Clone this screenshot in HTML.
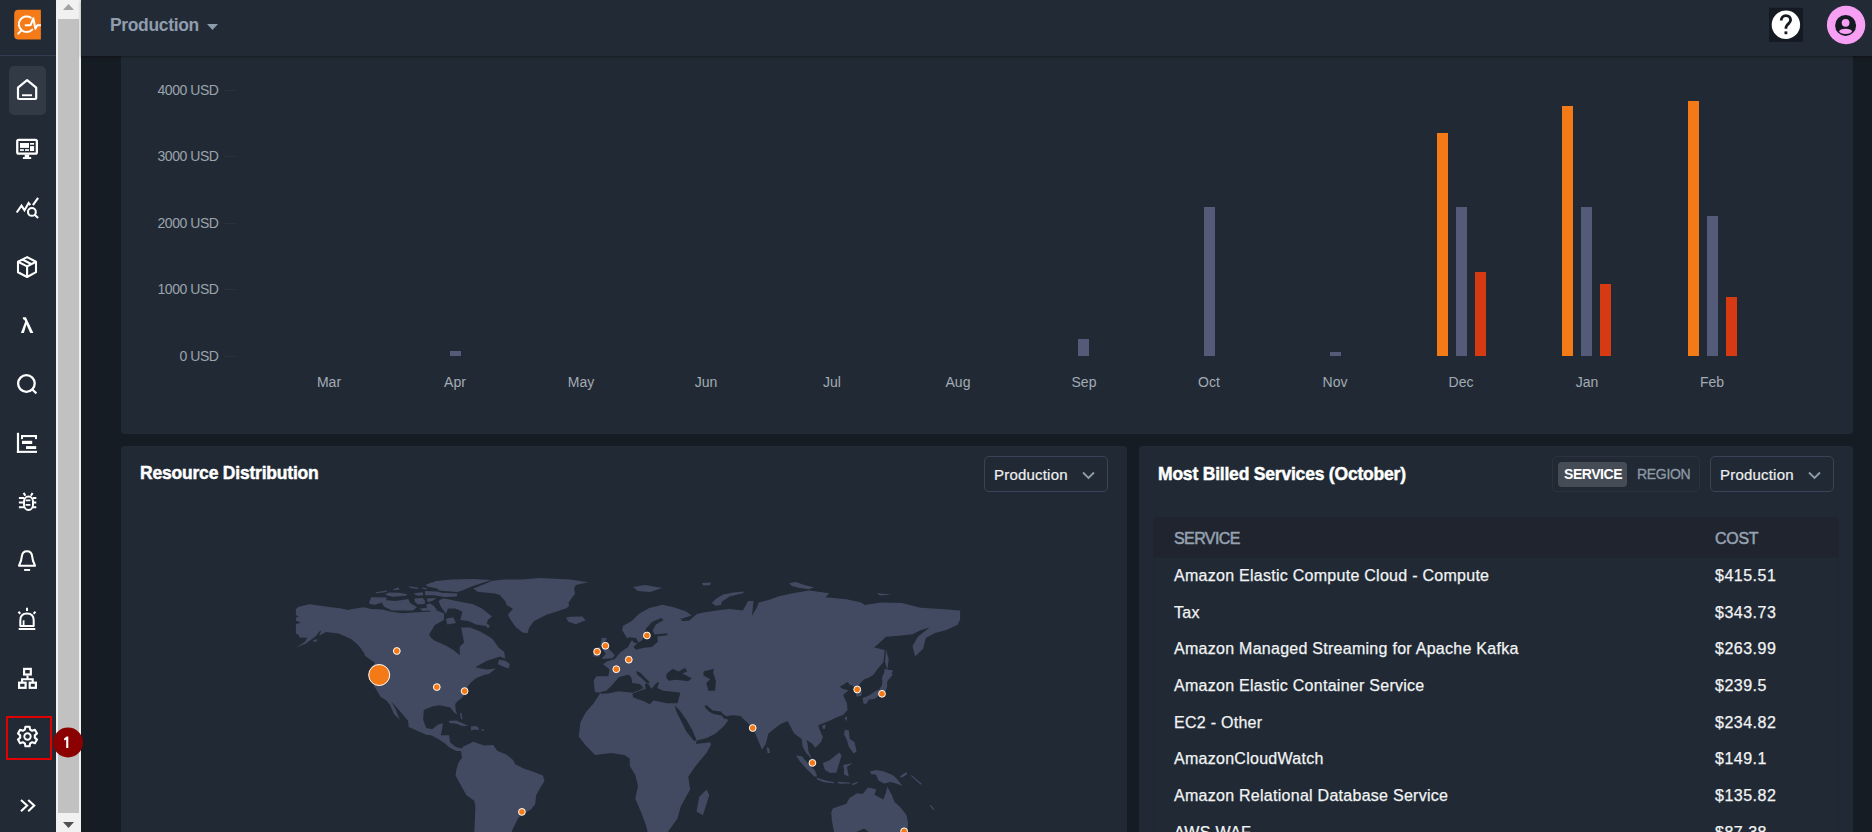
<!DOCTYPE html>
<html><head><meta charset="utf-8">
<style>
*{box-sizing:border-box;margin:0;padding:0}
html,body{width:1872px;height:832px;overflow:hidden;background:#161c23;font-family:"Liberation Sans",sans-serif;position:relative}
.abs{position:absolute}
#sidebar{left:0;top:0;width:56px;height:832px;background:#212a35}
#sep{left:0;top:55px;width:56px;height:1px;background:#363b50}
#scroll{left:56px;top:0;width:25px;height:832px;background:#f1f1f1}
#thumb{left:58px;top:19px;width:21px;height:794px;background:#c1c1c1}
#header{left:81px;top:0;width:1791px;height:56px;background:#222a35;box-shadow:0 1px 3px rgba(0,0,0,.35);z-index:5}
.card{background:#212a34;border-radius:4px}
.ylab{color:#9ba3ad;font-size:14px;text-align:right;width:80px;left:138.5px;line-height:15px;letter-spacing:-0.45px}
.mlab{color:#a3abb5;font-size:14px;text-align:center;width:60px;line-height:15px;top:374.5px}
.bar{bottom:476px}
.o{background:#f47a17}.g{background:#535b78}.r{background:#d63a12}
.title{color:#fff;font-weight:bold;font-size:17.5px;line-height:20px;-webkit-text-stroke:0.45px #fff;letter-spacing:-0.2px}
.dd{border:1px solid #3a4456;border-radius:5px;height:36px}
.dd span{position:absolute;color:#eef0f2;font-size:15px;line-height:16px;top:10px;letter-spacing:0.2px;-webkit-text-stroke:0.2px #eef0f2}
.row{color:#f1f3f5;font-size:16px;line-height:18px;letter-spacing:0.27px;-webkit-text-stroke:0.25px #f1f3f5}
.cost{letter-spacing:0.5px}
.ico{position:absolute;fill:none;stroke:#fff;stroke-width:2}
</style></head><body>
<div id="sidebar" class="abs"></div>
<div id="sep" class="abs"></div>
<div id="scroll" class="abs"></div>
<div id="thumb" class="abs"></div>
<svg class="abs" style="left:56px;top:0" width="25" height="832">
  <polygon points="7,10 18,10 12.5,4" fill="#a3a3a3"/>
  <polygon points="7,822 18,822 12.5,828" fill="#505050"/>
</svg>

<div id="header" class="abs">
  <div class="abs" style="left:29px;top:15px;color:#8f9daf;font-weight:bold;font-size:17.5px;line-height:20px;letter-spacing:-0.35px">Production</div>
  <svg class="abs" style="left:126px;top:23px" width="12" height="8"><polygon points="0,1 11,1 5.5,7" fill="#8d9bab"/></svg>
<svg class="abs" style="left:0;top:0" width="1791" height="56" viewBox="81 0 1791 56">
<rect x="1769" y="7.8" width="34" height="34" fill="#151a22"/>
<circle cx="1785.9" cy="24.8" r="14.2" fill="#fff"/>
<path d="M1781.2,20.6 C1781.2,17.4 1783.3,15.6 1785.9,15.6 C1788.7,15.6 1790.6,17.4 1790.6,20.1 C1790.6,22.8 1788.2,23.6 1786.8,25.5 C1786.1,26.4 1785.9,27.4 1785.9,28.7" fill="none" stroke="#151a22" stroke-width="2.8"/>
<rect x="1784.5" y="31.4" width="2.8" height="2.8" fill="#151a22"/>
<circle cx="1846.1" cy="24.95" r="19.2" fill="#f7a0f3"/>
<circle cx="1845.6" cy="25.4" r="10.5" fill="#151a22"/>
<circle cx="1845.6" cy="22.8" r="3.9" fill="#f7a0f3"/>
<ellipse cx="1845.6" cy="31.3" rx="6.3" ry="2.6" fill="#f7a0f3"/>
</svg>
</div>

<!-- top chart card -->
<div class="abs card" style="left:121px;top:20px;width:1732px;height:414px"></div>
<div class="abs ylab" style="top:83px">4000 USD</div>
<div class="abs ylab" style="top:149px">3000 USD</div>
<div class="abs ylab" style="top:215.5px">2000 USD</div>
<div class="abs ylab" style="top:282px">1000 USD</div>
<div class="abs ylab" style="top:348.5px">0 USD</div>

<div class="abs" style="left:224px;top:90px;width:12px;height:1px;background:#2b303c"></div><div class="abs" style="left:224px;top:156px;width:12px;height:1px;background:#2b303c"></div><div class="abs" style="left:224px;top:223px;width:12px;height:1px;background:#2b303c"></div><div class="abs" style="left:224px;top:289px;width:12px;height:1px;background:#2b303c"></div><div class="abs" style="left:224px;top:356px;width:12px;height:1px;background:#2b303c"></div>
<div class="abs mlab" style="left:299px">Mar</div>
<div class="abs mlab" style="left:425px">Apr</div>
<div class="abs mlab" style="left:551px">May</div>
<div class="abs mlab" style="left:676px">Jun</div>
<div class="abs mlab" style="left:802px">Jul</div>
<div class="abs mlab" style="left:928px">Aug</div>
<div class="abs mlab" style="left:1054px">Sep</div>
<div class="abs mlab" style="left:1179px">Oct</div>
<div class="abs mlab" style="left:1305px">Nov</div>
<div class="abs mlab" style="left:1431px">Dec</div>
<div class="abs mlab" style="left:1557px">Jan</div>
<div class="abs mlab" style="left:1682px">Feb</div>

<div class="abs bar g" style="left:450px;width:11px;top:351px;height:5px"></div>
<div class="abs bar g" style="left:1078px;width:11px;top:339px;height:17px"></div>
<div class="abs bar g" style="left:1204px;width:11px;top:207px;height:149px"></div>
<div class="abs bar g" style="left:1330px;width:11px;top:352px;height:4px"></div>
<div class="abs bar o" style="left:1437px;width:11px;top:133px;height:223px"></div>
<div class="abs bar g" style="left:1456px;width:11px;top:207px;height:149px"></div>
<div class="abs bar r" style="left:1475px;width:11px;top:272px;height:84px"></div>
<div class="abs bar o" style="left:1562px;width:11px;top:106px;height:250px"></div>
<div class="abs bar g" style="left:1581px;width:11px;top:207px;height:149px"></div>
<div class="abs bar r" style="left:1600px;width:11px;top:284px;height:72px"></div>
<div class="abs bar o" style="left:1688px;width:11px;top:101px;height:255px"></div>
<div class="abs bar g" style="left:1707px;width:11px;top:216px;height:140px"></div>
<div class="abs bar r" style="left:1726px;width:11px;top:297px;height:59px"></div>

<!-- resource distribution card -->
<div class="abs card" style="left:121px;top:446px;width:1006px;height:400px"></div>
<div class="abs title" style="left:140px;top:463px">Resource Distribution</div>
<div class="abs dd" style="left:984px;top:456px;width:124px"><span style="left:9px">Production</span>
<svg class="abs" style="left:97px;top:14px" width="14" height="9"><polyline points="1,1.5 6.5,7 12,1.5" fill="none" stroke="#8d9bab" stroke-width="1.9"/></svg></div>
<!--MAP--><div class="abs" style="left:121px;top:446px;width:1006px;height:386px;overflow:hidden"><div class="abs" style="left:-121px;top:-446px"><svg class="abs" style="left:0;top:0" width="1872" height="832" viewBox="0 0 1872 832"><path fill="#424a62" d="M295.9,609.0 L298.8,606.8 L309.6,604.3 L318.3,605.4 L331.3,607.2 L339.9,608.3 L347.8,610.1 L352.9,609.0 L363.7,607.2 L370.9,609.0 L382.4,609.6 L391.0,611.8 L402.6,613.2 L412.7,612.5 L428.5,611.8 L436.9,610.5 L443.7,613.3 L455.0,612.0 L470.0,614.0 L480.0,618.0 L489.8,625.8 L485.0,633.5 L492.7,639.3 L498.7,647.8 L504.2,652.1 L505.2,658.6 L500.0,656.5 L487.0,660.8 L475.2,667.3 L480.6,668.4 L487.1,669.5 L495.8,668.4 L489.3,673.8 L483.9,674.9 L476.3,678.1 L470.9,682.5 L467.6,686.8 L465.5,693.3 L462.2,697.6 L456.8,702.0 L455.2,704.1 L455.7,710.6 L457.3,714.9 L453.5,711.7 L450.3,707.4 L444.9,706.3 L439.5,705.2 L432.2,706.4 L423.8,710.0 L423.1,719.7 L426.2,728.1 L432.2,729.3 L438.2,724.5 L443.0,723.3 L441.8,730.5 L440.6,735.3 L449.0,735.3 L450.2,742.5 L456.2,747.3 L462.2,748.5 L463.2,746.6 L467.7,744.4 L473.2,741.7 L477.6,743.3 L484.2,745.5 L493.1,745.0 L497.5,751.1 L506.4,754.4 L513.0,759.9 L515.2,764.3 L524.1,768.8 L534.0,772.1 L542.9,775.4 L544.5,780.9 L539.6,788.7 L536.2,795.3 L535.1,804.2 L530.7,809.7 L524.1,813.0 L518.5,817.4 L513.0,828.5 L510.8,834.0 L474.3,834.0 L475.4,806.4 L474.3,800.8 L466.5,795.3 L462.1,787.6 L455.5,775.4 L456.6,768.8 L458.8,762.1 L462.1,757.7 L461.0,751.1 L456.2,750.9 L449.0,747.3 L445.4,743.7 L438.2,738.9 L431.0,735.3 L426.2,734.7 L416.5,730.5 L408.7,726.9 L408.1,720.9 L402.1,713.7 L391.3,701.6 L396.0,710.0 L399.7,719.7 L394.0,714.0 L390.1,705.0 L386.5,700.4 L380.5,696.8 L375.7,688.4 L373.7,686.1 L370.8,667.4 L375.1,663.0 L365.0,655.8 L364.4,653.7 L360.1,647.2 L356.5,643.6 L351.4,639.3 L345.7,636.4 L338.5,633.5 L326.2,632.0 L319.0,635.7 L321.2,630.6 L319.7,631.3 L315.4,636.4 L306.0,643.6 L295.9,647.5 L304.6,642.1 L307.5,637.8 L299.5,637.5 L298.8,634.9 L295.9,633.5 L295.9,624.1 L301.0,622.7 L295.9,620.5 L295.9,617.6 L298.8,616.9 L295.9,614.7Z M492.0,580.8 L504.2,579.6 L522.7,579.4 L539.0,578.1 L570.1,579.4 L588.0,582.2 L575.8,585.1 L574.1,588.3 L575.0,594.1 L571.7,598.1 L568.4,603.0 L569.2,605.5 L566.8,608.0 L555.4,612.0 L547.2,614.5 L539.0,618.6 L534.1,621.0 L529.2,627.6 L527.6,633.3 L522.7,632.5 L516.1,627.6 L510.4,619.4 L508.0,614.5 L512.9,608.8 L506.3,604.7 L505.5,601.4 L499.8,594.9 L494.9,593.5 L477.6,591.7 L473.3,588.4 L484.8,584.1Z M566.0,617.8 L570.1,616.8 L582.3,616.5 L585.6,620.2 L575.8,624.3 L568.4,621.8Z M600.6,692.8 L595.1,692.0 L594.4,688.1 L593.8,680.2 L596.4,676.2 L608.3,676.2 L609.6,669.6 L603.0,664.3 L607.0,661.6 L614.9,659.0 L620.2,652.4 L628.1,647.1 L630.8,641.8 L632.1,640.5 L626.8,637.9 L622.2,629.9 L622.9,626.0 L632.1,620.7 L638.7,614.1 L649.3,608.1 L662.5,604.8 L674.4,607.5 L686.3,611.4 L691.6,615.4 L683.6,618.0 L681.0,620.7 L688.9,620.7 L696.9,614.1 L702.2,612.8 L716.4,610.4 L729.6,609.1 L742.9,610.4 L748.1,601.1 L753.4,601.1 L752.1,615.7 L757.4,606.4 L758.7,602.5 L769.3,599.8 L779.9,595.9 L793.1,593.2 L808.9,590.6 L820.0,591.9 L829.3,593.2 L825.3,597.2 L846.4,599.2 L861.0,602.5 L864.9,605.1 L880.8,602.5 L901.9,603.1 L920.4,607.8 L940.3,609.1 L960.1,610.4 L960.1,619.6 L957.4,624.9 L945.5,630.2 L935.0,632.9 L925.7,638.1 L923.1,648.7 L915.1,656.6 L912.5,646.1 L917.8,636.8 L929.7,627.6 L920.4,630.2 L912.5,634.2 L901.9,635.5 L886.1,636.8 L874.2,647.4 L884.8,650.0 L883.4,661.9 L876.8,670.0 L873.5,674.8 L868.7,677.7 L863.8,679.6 L860.0,683.5 L859.0,685.4 L861.0,689.2 L861.9,693.1 L861.0,696.0 L856.6,696.4 L855.7,693.1 L854.2,691.2 L853.3,685.9 L849.4,684.4 L847.5,682.0 L839.8,686.8 L843.7,689.2 L848.5,690.2 L843.2,695.0 L847.0,703.7 L847.5,710.0 L843.1,715.0 L837.3,716.9 L829.6,720.8 L821.9,723.7 L818.1,725.6 L820.0,730.4 L822.9,737.1 L821.0,741.9 L815.2,747.7 L812.3,743.8 L806.5,740.0 L807.5,743.8 L808.5,751.5 L812.3,759.2 L806.5,753.5 L802.7,746.7 L801.7,739.0 L794.0,733.3 L787.6,721.1 L780.9,723.7 L774.2,728.7 L768.3,733.8 L765.8,743.9 L762.0,749.8 L759.0,742.2 L755.7,734.6 L752.7,728.7 L750.6,725.4 L745.6,721.1 L740.5,716.1 L733.8,715.3 L726.2,716.1 L728.0,720.5 L723.7,726.2 L715.3,733.8 L706.8,738.0 L696.7,740.5 L695.9,743.9 L710.2,742.2 L711.0,744.7 L706.5,753.1 L695.6,765.9 L688.3,776.8 L690.1,789.6 L681.0,806.0 L677.3,818.8 L666.3,834.0 L648.1,834.0 L646.2,826.1 L640.8,811.5 L635.3,798.7 L638.0,786.0 L635.3,775.0 L629.8,765.9 L629.8,758.6 L624.3,754.9 L611.5,753.1 L595.1,754.9 L586.0,745.8 L578.7,736.6 L580.5,722.0 L586.0,712.0 L593.3,703.7Z M601.7,637.9 L607.0,637.9 L604.4,643.1 L609.6,649.8 L614.9,655.0 L612.3,658.3 L601.7,659.0 L605.7,653.7 L600.4,645.8Z M593.8,648.4 L600.4,647.1 L599.7,656.4 L593.1,656.4Z M711.8,603.1 L716.4,598.5 L723.0,594.5 L733.6,592.6 L744.2,591.6 L742.9,593.2 L729.6,596.5 L721.7,601.8 L721.1,605.1 L715.8,605.8Z M702.0,583.0 L711.0,582.6 L710.0,585.3 L703.0,585.5Z M789.1,583.3 L795.7,582.0 L805.0,585.3 L814.2,587.3 L808.9,589.3 L799.7,587.9 L791.8,585.9Z M876.8,593.2 L891.4,594.5 L880.0,595.5Z M633.0,587.0 L645.0,585.0 L662.0,588.0 L650.0,592.0 L638.0,591.0Z M886.1,650.0 L888.7,659.3 L887.4,669.9 L885.0,662.0Z M862.5,698.0 L868.0,696.0 L872.0,693.5 L876.0,690.7 L879.5,689.2 L882.0,685.0 L882.3,681.0 L882.0,677.5 L884.8,671.0 L893.0,674.5 L889.0,679.0 L887.0,682.0 L887.2,686.0 L886.0,690.5 L882.5,693.5 L877.0,697.0 L874.5,699.0 L869.0,699.5 L866.0,704.0 L863.5,703.5Z M884.0,669.0 L893.0,670.5 L891.0,675.0 L886.0,675.5Z M844.5,717.7 L847.5,716.5 L846.3,721.3Z M822.4,725.6 L825.8,724.6 L824.8,728.9 L822.5,728.5Z M845.0,729.4 L848.8,730.4 L849.8,739.0 L854.6,741.9 L856.5,751.5 L853.7,753.5 L848.8,746.7 L846.9,740.0 L844.0,734.2Z M822.9,763.1 L829.6,760.2 L835.4,755.4 L839.2,752.5 L841.6,755.4 L839.2,763.1 L836.3,772.7 L829.6,772.7 L824.8,769.8Z M796.0,755.4 L801.7,756.3 L808.5,764.0 L815.2,770.8 L817.1,776.5 L814.2,776.5 L806.5,768.8 L799.8,761.2Z M816.2,777.5 L825.8,780.4 L834.4,782.3 L833.5,783.3 L823.8,782.3 L817.1,779.4Z M843.1,765.0 L852.7,763.1 L846.9,766.9 L848.8,776.5 L844.0,774.6 L844.0,768.8Z M869.7,771.6 L876.1,770.0 L884.1,771.6 L892.1,774.8 L896.1,778.0 L902.5,786.0 L896.1,783.6 L890.5,782.0 L884.1,783.6 L878.5,780.4 L876.1,774.8 L871.3,774.0Z M831.2,812.5 L832.8,808.5 L846.4,803.7 L849.6,798.0 L856.9,793.2 L862.5,794.0 L868.1,787.6 L876.1,789.2 L874.5,794.8 L883.3,799.6 L885.7,793.2 L887.3,786.8 L892.1,795.6 L894.5,802.1 L900.1,806.9 L906.5,814.9 L908.1,822.9 L907.3,834.0 L871.3,834.0 L864.1,828.5 L852.0,834.0 L834.4,834.0 L832.0,821.3Z M706.5,789.6 L709.3,795.1 L702.9,815.2 L696.5,811.5 L699.2,796.9Z M766.6,747.2 L769.0,748.0 L770.0,753.1 L767.5,753.0Z M448.5,721.0 L456.2,720.6 L462.0,723.0 L468.2,725.7 L462.2,726.0 L456.0,723.5 L450.2,723.3Z M499.0,659.7 L505.5,660.8 L509.8,664.1 L508.7,668.4 L502.3,666.2 L497.9,664.1Z M460.0,713.0 L461.5,713.0 L462.5,719.0 L461.0,719.3Z M481.5,729.2 L484.0,729.2 L484.0,730.5 L481.5,730.5Z M470.9,726.5 L475.0,726.0 L478.0,727.0 L479.0,730.0 L474.0,729.5 L471.0,730.5Z M313.2,640.0 L317.6,639.3 L316.5,641.4 L313.5,642.0Z M837.7,781.8 L848.7,782.4 L851.0,783.5 L838.8,783.7Z M851.5,784.0 L857.6,781.8 L858.0,782.8 L853.2,785.3Z M899.6,776.5 L906.2,772.0 L907.3,774.3 L901.8,777.6Z M929.5,805.0 L931.0,805.3 L934.5,809.5 L933.0,809.8Z M910.5,775.5 L912.0,775.5 L922.0,784.0 L920.5,784.5Z"/><path fill="#212a34" d="M444.0,606.0 L455.0,606.0 L470.0,612.0 L478.0,620.0 L486.0,626.0 L492.0,633.0 L490.0,637.0 L480.0,631.5 L470.0,627.5 L461.0,627.5 L458.0,624.0 L450.0,624.0 L444.0,620.0Z M429.5,633.7 L434.9,625.0 L444.6,619.6 L446.8,617.5 L452.0,612.0 L458.0,614.0 L460.9,626.1 L461.9,631.5 L464.1,642.4 L459.8,646.7 L459.8,655.3 L453.3,649.9 L445.7,645.6 L433.8,640.2 L429.5,635.9Z M599.6,692.2 L606.3,690.8 L612.1,685.0 L618.8,677.3 L628.5,674.4 L631.3,677.3 L632.3,683.1 L640.0,684.0 L643.4,687.9 L638.1,690.8 L632.3,692.7 L618.8,691.3 L609.2,693.2 L601.5,693.7Z M640.0,690.8 L632.3,693.7 L633.3,697.5 L643.8,701.3 L649.6,704.2 L653.5,700.4 L666.9,703.3 L677.5,703.3 L680.4,692.7 L673.7,691.7 L663.1,690.8 L657.3,687.9 L659.2,682.1 L656.3,683.1 L651.5,688.8 L647.7,683.1 L644.8,684.0 L645.8,688.8Z M636.2,671.1 L640.0,672.5 L649.6,682.1 L647.7,684.0 L642.9,679.2 L637.1,674.4Z M666.9,673.5 L672.7,668.7 L678.5,671.5 L685.2,667.7 L687.1,671.5 L682.3,673.5 L691.9,678.3 L688.1,681.2 L676.5,679.7 L668.8,680.7 L666.0,677.3Z M703.5,671.5 L714.0,668.7 L713.1,672.5 L716.0,681.2 L715.0,690.8 L708.3,690.8 L706.3,683.1 L710.2,679.2 L703.5,675.4Z M674.6,705.2 L679.4,710.0 L686.2,719.6 L691.9,729.2 L696.5,740.0 L694.0,741.0 L686.2,731.2 L680.4,719.6 L676.5,711.9Z M704.5,705.5 L707.0,705.5 L712.7,710.5 L721.1,711.5 L722.5,713.5 L726.5,716.5 L727.5,719.5 L724.0,718.5 L721.5,715.5 L713.6,714.0 L709.5,712.0 L705.5,708.0Z M661.2,618.0 L663.8,620.0 L655.9,624.6 L652.6,630.6 L654.6,634.6 L667.8,633.2 L667.1,635.2 L657.2,636.5 L657.9,641.8 L651.9,647.1 L644.0,647.8 L636.1,649.8 L633.4,647.1 L637.4,643.1 L642.0,640.5 L644.0,636.5 L646.0,628.6 L651.9,622.0Z M628.1,637.2 L636.1,637.9 L638.7,643.1 L634.8,643.1 L632.1,640.5 L628.1,640.5Z M679.7,618.0 L685.0,619.4 L688.9,616.7 L684.0,621.5Z"/><path fill="#424a62" d="M369.1,602.4 L371.2,597.2 L386.6,597.6 L386.2,600.0 L380.9,602.9 L374.6,604.8 L369.8,603.9Z M381.8,602.9 L385.2,600.0 L394.8,601.0 L402.5,600.0 L408.3,599.1 L410.2,602.9 L416.9,607.2 L413.1,610.6 L403.5,610.6 L391.9,610.6 L384.2,606.8Z M375.6,592.3 L387.1,590.4 L386.6,591.9 L376.5,593.3Z M385.2,594.3 L389.0,592.6 L399.6,592.8 L407.3,594.3 L405.9,595.7 L392.9,596.7 L386.6,595.2Z M393.4,589.0 L398.7,587.5 L399.6,589.5 L393.8,590.2Z M408.3,586.3 L417.9,587.5 L418.4,589.0 L410.7,588.0Z M421.7,587.5 L426.5,588.0 L427.0,589.2 L422.7,589.0Z M425.6,584.7 L432.3,582.2 L441.9,583.7 L444.3,588.0 L437.1,588.5 L427.5,586.6Z M414.0,593.3 L422.7,592.3 L423.2,595.2 L417.9,595.7 L414.5,594.3Z M425.1,590.9 L437.1,591.4 L441.9,592.8 L457.4,593.5 L456.7,596.4 L444.4,597.1 L433.8,595.2 L425.1,595.2Z M414.5,598.6 L422.7,598.1 L425.1,601.0 L424.6,603.9 L417.9,604.4 L415.0,602.0Z M427.0,598.6 L436.6,598.1 L432.3,601.0 L427.5,602.0Z M438.6,601.0 L441.9,599.1 L444.4,598.5 L458.8,601.4 L473.3,604.3 L481.9,608.6 L492.0,616.5 L487.7,620.1 L486.2,625.9 L476.1,624.5 L468.2,620.9 L460.3,620.1 L462.4,611.5 L455.2,608.6 L448.0,608.6 L445.9,613.7 L440.8,606.4Z M426.1,604.8 L429.9,603.4 L433.8,605.8 L437.1,610.6 L432.3,612.1 L427.5,609.7Z M419.8,608.7 L426.1,607.7 L428.5,610.6 L422.7,611.1Z M434.3,581.2 L451.6,579.4 L473.3,579.0 L491.3,580.1 L480.5,583.4 L470.4,587.0 L462.4,590.6 L457.4,592.0 L448.0,591.3 L439.4,590.6 L437.2,588.4 L444.4,586.3 L434.3,584.1Z M445.9,618.7 L453.1,617.3 L456.0,623.0 L447.3,624.5Z"/><circle cx="396.8" cy="651" r="3.4" fill="#f47a17" stroke="#fff" stroke-width="1"/><circle cx="436.8" cy="687.1" r="3.4" fill="#f47a17" stroke="#fff" stroke-width="1"/><circle cx="464.6" cy="691.1" r="3.4" fill="#f47a17" stroke="#fff" stroke-width="1"/><circle cx="597.1" cy="651.7" r="3.4" fill="#f47a17" stroke="#fff" stroke-width="1"/><circle cx="605.4" cy="645.8" r="3.4" fill="#f47a17" stroke="#fff" stroke-width="1"/><circle cx="616.3" cy="669.2" r="3.4" fill="#f47a17" stroke="#fff" stroke-width="1"/><circle cx="628.8" cy="659.7" r="3.4" fill="#f47a17" stroke="#fff" stroke-width="1"/><circle cx="646.9" cy="635.5" r="3.4" fill="#f47a17" stroke="#fff" stroke-width="1"/><circle cx="752.7" cy="728" r="3.4" fill="#f47a17" stroke="#fff" stroke-width="1"/><circle cx="812.4" cy="762.9" r="3.4" fill="#f47a17" stroke="#fff" stroke-width="1"/><circle cx="857.2" cy="689.5" r="3.4" fill="#f47a17" stroke="#fff" stroke-width="1"/><circle cx="882" cy="693.8" r="3.4" fill="#f47a17" stroke="#fff" stroke-width="1"/><circle cx="521.9" cy="811.9" r="3.4" fill="#f47a17" stroke="#fff" stroke-width="1"/><circle cx="904.1" cy="831.3" r="3.4" fill="#f47a17" stroke="#fff" stroke-width="1"/><circle cx="379.2" cy="675" r="10.5" fill="#f47a17" stroke="#fff" stroke-width="1"/></svg></div></div><!--/MAP-->

<!-- most billed card -->
<div class="abs card" style="left:1139px;top:446px;width:714px;height:400px"></div>
<div class="abs title" style="left:1158px;top:464px">Most Billed Services (October)</div>
<div class="abs" style="left:1552px;top:456px;width:148px;height:36px;border:1px solid #2a3240;border-radius:5px"></div>
<div class="abs" style="left:1558px;top:462px;width:69px;height:25px;background:#464c56;border-radius:4px"></div>
<div class="abs" style="left:1564px;top:467px;color:#fff;font-weight:bold;font-size:14px;line-height:14px;letter-spacing:-0.45px">SERVICE</div>
<div class="abs" style="left:1637px;top:467px;color:#8e99a6;font-size:14px;line-height:14px;letter-spacing:-0.3px;-webkit-text-stroke:0.3px #8e99a6">REGION</div>
<div class="abs dd" style="left:1710px;top:456px;width:124px"><span style="left:9px">Production</span>
<svg class="abs" style="left:97px;top:14px" width="14" height="9"><polyline points="1,1.5 6.5,7 12,1.5" fill="none" stroke="#8d9bab" stroke-width="1.9"/></svg></div>

<div class="abs" style="left:1153px;top:517px;width:686px;height:41px;background:#1f242e;border-radius:4px 4px 0 0"></div>
<div class="abs" style="left:1153px;top:558px;width:686px;height:300px;border-left:1px solid #1e2630;border-right:1px solid #1e2630"></div>
<div class="abs" style="left:1174px;top:530.5px;color:#95a2b1;font-size:16px;line-height:16px;letter-spacing:-0.6px;-webkit-text-stroke:0.5px #95a2b1">SERVICE</div>
<div class="abs" style="left:1715px;top:530.5px;color:#95a2b1;font-size:16px;line-height:16px;-webkit-text-stroke:0.5px #95a2b1;letter-spacing:-0.3px">COST</div>

<div class="abs row" style="left:1174px;top:567px">Amazon Elastic Compute Cloud - Compute</div>
<div class="abs row cost" style="left:1715px;top:567px">$415.51</div>
<div class="abs row" style="left:1174px;top:604px">Tax</div>
<div class="abs row cost" style="left:1715px;top:604px">$343.73</div>
<div class="abs row" style="left:1174px;top:640px">Amazon Managed Streaming for Apache Kafka</div>
<div class="abs row cost" style="left:1715px;top:640px">$263.99</div>
<div class="abs row" style="left:1174px;top:677px">Amazon Elastic Container Service</div>
<div class="abs row cost" style="left:1715px;top:677px">$239.5</div>
<div class="abs row" style="left:1174px;top:714px">EC2 - Other</div>
<div class="abs row cost" style="left:1715px;top:714px">$234.82</div>
<div class="abs row" style="left:1174px;top:750px">AmazonCloudWatch</div>
<div class="abs row cost" style="left:1715px;top:750px">$149.1</div>
<div class="abs row" style="left:1174px;top:787px">Amazon Relational Database Service</div>
<div class="abs row cost" style="left:1715px;top:787px">$135.82</div>
<div class="abs row" style="left:1174px;top:824px">AWS WAF</div>
<div class="abs row cost" style="left:1715px;top:824px">$87.38</div>

<!--ICONS--><svg class="abs" style="left:0;top:0;z-index:6" width="56" height="832" viewBox="0 0 56 832"><path d="M18.5,9.8 H40.9 V39.6 H18.5 Q14.2,39.6 14.2,35.3 V14.1 Q14.2,9.8 18.5,9.8Z" fill="#f47b17"/><g fill="none" stroke="#fff" stroke-width="2" stroke-linecap="round" stroke-linejoin="round"><path d="M30.8,17.6 A7.8,7.8 0 1 0 32.3,29.6"/><path d="M21,30.8 L18.2,33.6"/><path d="M24.8,25.2 H30.6 L33.3,18.3 L35.4,28.8 L37.3,25.2 H40.9" stroke-linecap="butt"/></g><rect x="9" y="66" width="37" height="49" rx="5" fill="#323a46"/><g fill="none" stroke="#fff" stroke-width="2.2" stroke-linejoin="round" stroke-linecap="round"><path d="M18,98 V87.6 L27.1,80.2 L36.2,87.6 V98 Q36.2,99 35.2,99 H19 Q18,99 18,98Z"/></g><rect x="22" y="94.3" width="10" height="1.9" fill="#fff"/><rect x="17.25" y="139.85" width="19.6" height="13.7" rx="1.4" fill="none" stroke="#fff" stroke-width="2.3"/><g fill="#fff"><rect x="20" y="143" width="9" height="4.9"/><rect x="30" y="143" width="4.1" height="1.7"/><rect x="30" y="146.1" width="4.1" height="4.9"/><rect x="20" y="149.2" width="3.9" height="1.7"/><rect x="25" y="149.2" width="4" height="1.7"/><rect x="24.7" y="154.6" width="4.5" height="3"/><rect x="22.9" y="157.1" width="8.3" height="1.9"/></g><g fill="none" stroke="#fff" stroke-width="2.1" stroke-linejoin="miter" stroke-linecap="butt"><polyline points="16.7,212.5 21.5,205.6 24.5,210.3 28.6,203 30.3,205"/><line x1="32.9" y1="205.1" x2="38.1" y2="197.8"/><circle cx="31.9" cy="211.9" r="3.9"/><line x1="34.7" y1="214.7" x2="38.1" y2="218.1"/><path d="M27.1,257.1 L36,261.8 V272.2 L27.1,277 L18,272.2 V261.8Z" stroke-linejoin="round"/><path d="M18,261.8 L27.1,266.4 L36,261.8 M27.1,266.4 V277 M22.5,259.5 L31.6,264.2"/><circle cx="26.4" cy="383.5" r="8.3" stroke-width="2.3"/><line x1="32.6" y1="389.8" x2="36.4" y2="393.4" stroke-width="2.2"/><rect x="24" y="496.5" width="9" height="13.4" rx="4.5" ry="5.2" stroke-width="2"/><path d="M18.9,498 H24 M18.9,502.6 H24 M18.9,507.2 H24 M33,498 H36.3 M33,502.6 H36.3 M33,507.2 H36.3 M23.6,492.9 L25.4,495.8 M32.6,492.9 L30.9,495.8" stroke-width="2"/><path d="M25.6,500.4 H30.4 M25.6,504.8 H30.4" stroke-width="1.7"/><path d="M19,565.7 C20.8,562 21.7,559.5 21.9,556 C22.3,552.5 24.4,551.2 27,551.2 C29.6,551.2 31.7,552.5 32.1,556 C32.3,559.5 33.2,562 35,565.7 Z" stroke-width="2.1" stroke-linejoin="round"/></g><rect x="24.1" y="569" width="6" height="1.9" fill="#fff"/><g fill="none" stroke="#fff" stroke-width="2" stroke-linecap="butt"><path d="M20.3,626 V620.5 C20.3,616 23,613.6 27,613.6 C31,613.6 33.7,616 33.7,620.5 V626 Z" stroke-linejoin="round"/><path d="M23.6,620.3 V625.5" stroke-width="1.8"/><path d="M18.7,628.9 H35.3 M27,607.8 V611 M18.4,611.8 L20.3,613.8 M35.5,611.8 L33.6,613.8"/><rect x="24.1" y="668.9" width="6.7" height="5.6" stroke-width="2.2"/><path d="M27.5,675.6 V679.2 M22.1,682 V679.2 H32.7 V682" stroke-width="2.1"/><rect x="19.1" y="682.7" width="6.5" height="5.1" stroke-width="2.2"/><rect x="29.7" y="682.7" width="6.2" height="5.1" stroke-width="2.2"/><path d="M21,800 L27.1,805.6 L21,811.2 M28.2,800 L34.2,805.6 L28.2,811.2" stroke-width="2.1"/></g><g fill="#fff"><rect x="16.9" y="432.8" width="2.2" height="20.1"/><rect x="16.9" y="450.8" width="20.1" height="2.1"/><rect x="21" y="435" width="16" height="2.1"/><rect x="21" y="435" width="2" height="4.1"/><rect x="35" y="435" width="2" height="4.1"/><rect x="22" y="440.8" width="10.2" height="3.2"/><rect x="26" y="446.1" width="10.2" height="2.9"/></g><path d="M22.9,317.2 H25.9 L33.4,333 H30.2 L26.4,324.6 L23.9,333 H20.9 L25.2,321.6 L24.6,320.3 Q24.2,319.4 22.9,319.3Z" fill="#fff"/><path d="M30.15,729.59 L29.58,726.72 L25.42,726.72 L24.85,729.59 L22.84,730.75 L20.07,729.81 L17.99,733.41 L20.19,735.34 L20.19,737.66 L17.99,739.59 L20.07,743.19 L22.84,742.25 L24.85,743.41 L25.42,746.28 L29.58,746.28 L30.15,743.41 L32.16,742.25 L34.93,743.19 L37.01,739.59 L34.81,737.66 L34.81,735.34 L37.01,733.41 L34.93,729.81 L32.16,730.75Z" fill="none" stroke="#fff" stroke-width="2.1" stroke-linejoin="round"/><circle cx="27.5" cy="736.5" r="3.2" fill="none" stroke="#fff" stroke-width="1.9"/><rect x="7" y="717" width="44" height="42" fill="none" stroke="#e00000" stroke-width="2"/></svg><svg class="abs" style="left:0;top:0;z-index:7" width="90" height="832" viewBox="0 0 90 832"><circle cx="68" cy="742.5" r="15" fill="#8b0000"/><path d="M66.2,748 V739.6 L64.1,740.6 V738.4 L66.7,736.4 H68.3 V748 Z" fill="#fff"/></svg><!--/ICONS-->
</body></html>
